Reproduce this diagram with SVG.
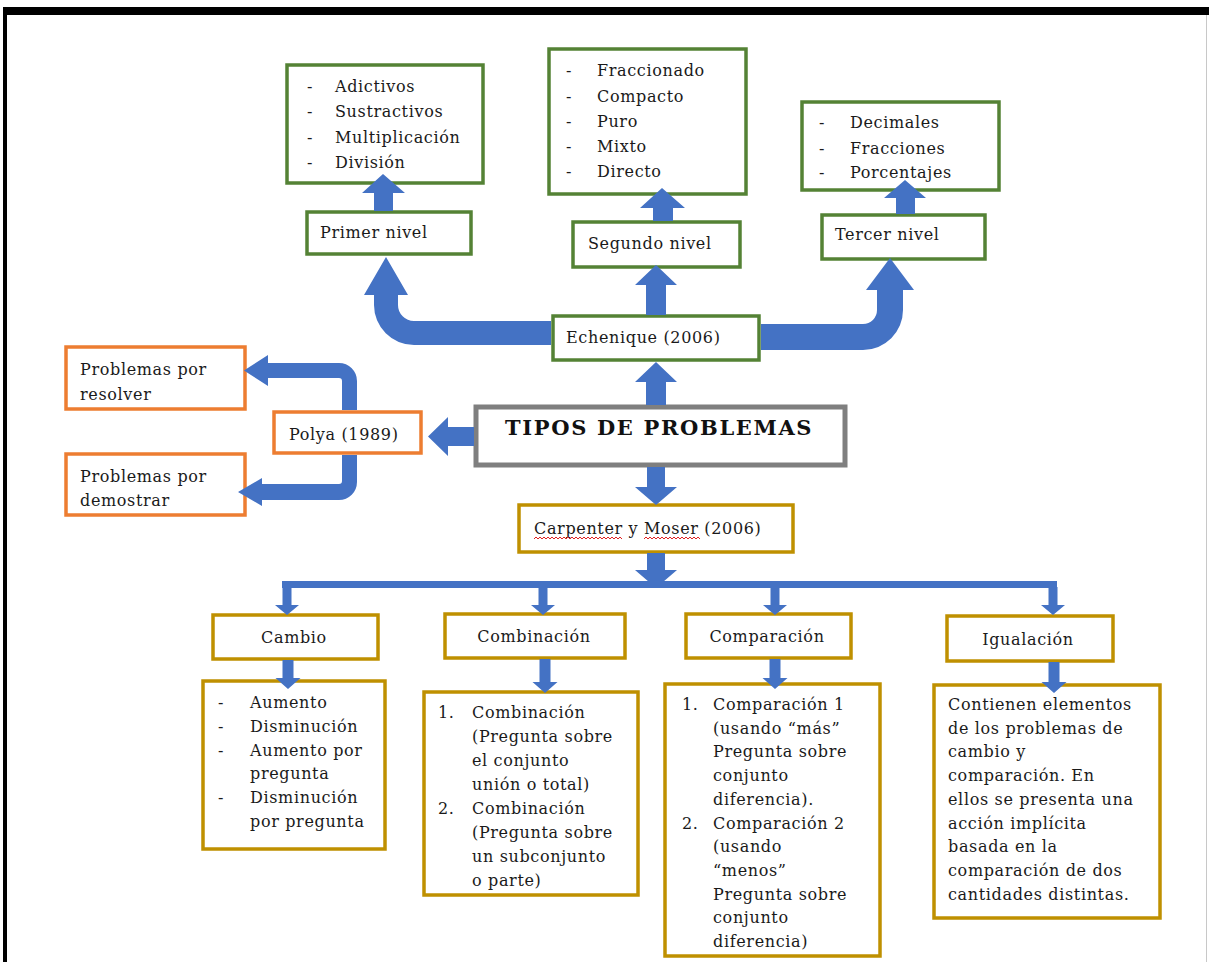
<svg xmlns="http://www.w3.org/2000/svg" width="1209" height="962" viewBox="0 0 1209 962">
<style>
.t{font-family:'DejaVu Serif','Liberation Serif',serif;font-size:16px;letter-spacing:0.65px;fill:#1a1a1a}
.c{text-anchor:middle}
.g{fill:#fff;stroke:#548235;stroke-width:3.5}
.o{fill:#fff;stroke:#ED7D31;stroke-width:3.5}
.y{fill:#fff;stroke:#BF9000;stroke-width:3.5}
.gr{fill:#fff;stroke:#7F7F7F;stroke-width:5}
.a{fill:#4472C4}
.h{font-family:'DejaVu Serif','Liberation Serif',serif;font-size:21px;font-weight:bold;letter-spacing:1.5px;fill:#111}
</style>
<defs>
<clipPath id="clipComb"><rect x="424" y="692" width="214" height="201"/></clipPath>
<clipPath id="clipComp"><rect x="665" y="684" width="215" height="270"/></clipPath>
</defs>
<rect x="0" y="0" width="1209" height="962" fill="#fff"/>
<g id="frame">
<rect x="3" y="7" width="1206" height="8" fill="#000"/>
<rect x="3" y="7" width="4" height="955" fill="#000"/>
<line x1="1206.5" y1="15" x2="1206.5" y2="962" stroke="#c8c8c8" stroke-width="1"/>
</g>

<g id="nivel1-lista">
<rect class="g" x="287" y="65" width="196" height="118"/>
<text class="t" x="307" y="92">-</text><text class="t" x="335" y="92">Adictivos</text>
<text class="t" x="307" y="117">-</text><text class="t" x="335" y="117">Sustractivos</text>
<text class="t" x="307" y="143">-</text><text class="t" x="335" y="143">Multiplicación</text>
<text class="t" x="307" y="168">-</text><text class="t" x="335" y="168">División</text>
</g>
<g id="primer-nivel">
<rect class="g" x="307" y="212" width="164" height="42"/>
<text class="t" x="320" y="238">Primer nivel</text>
</g>
<g id="nivel2-lista">
<rect class="g" x="549" y="49" width="197" height="145"/>
<text class="t" x="566" y="76">-</text><text class="t" x="597" y="76">Fraccionado</text>
<text class="t" x="566" y="102">-</text><text class="t" x="597" y="102">Compacto</text>
<text class="t" x="566" y="127">-</text><text class="t" x="597" y="127">Puro</text>
<text class="t" x="566" y="152">-</text><text class="t" x="597" y="152">Mixto</text>
<text class="t" x="566" y="177">-</text><text class="t" x="597" y="177">Directo</text>
</g>
<g id="segundo-nivel">
<rect class="g" x="573" y="222" width="167" height="45"/>
<text class="t" x="588" y="249">Segundo nivel</text>
</g>
<g id="nivel3-lista">
<rect class="g" x="802" y="102" width="197" height="88"/>
<text class="t" x="819" y="128">-</text><text class="t" x="850" y="128">Decimales</text>
<text class="t" x="819" y="154">-</text><text class="t" x="850" y="154">Fracciones</text>
<text class="t" x="819" y="178">-</text><text class="t" x="850" y="178">Porcentajes</text>
</g>
<g id="tercer-nivel">
<rect class="g" x="822" y="215" width="163" height="44"/>
<text class="t" x="835" y="240">Tercer nivel</text>
</g>
<g id="echenique">
<rect class="g" x="553" y="316" width="206" height="44"/>
<text class="t" x="566" y="343">Echenique (2006)</text>
</g>
<g id="tipos">
<rect class="gr" x="476" y="407" width="369" height="58"/>
<text class="h" x="505" y="435" textLength="308" lengthAdjust="spacing">TIPOS DE PROBLEMAS</text>
</g>
<g id="polya">
<rect class="o" x="274" y="412" width="147" height="41"/>
<text class="t" x="289" y="440">Polya (1989)</text>
</g>
<g id="resolver">
<rect class="o" x="66" y="347" width="179" height="62"/>
<text class="t" x="80" y="375">Problemas por</text>
<text class="t" x="80" y="400">resolver</text>
</g>
<g id="demostrar">
<rect class="o" x="66" y="454" width="179" height="61"/>
<text class="t" x="80" y="482">Problemas por</text>
<text class="t" x="80" y="506">demostrar</text>
</g>
<g id="carpenter">
<rect class="y" x="519" y="505" width="274" height="47"/>
<text class="t" x="534" y="534">Carpenter y Moser (2006)</text>
<path d="M534,539 l2,-2 2,2 2,-2 2,2 2,-2 2,2 2,-2 2,2 2,-2 2,2 2,-2 2,2 2,-2 2,2 2,-2 2,2 2,-2 2,2 2,-2 2,2 2,-2 2,2 2,-2 2,2 2,-2 2,2 2,-2 2,2 2,-2 2,2 2,-2 2,2 2,-2 2,2 2,-2 2,2 2,-2 2,2 2,-2 2,2 2,-2 2,2 2,-2 2,2" fill="none" stroke="#e02020" stroke-width="1"/>
<path d="M644,539 l2,-2 2,2 2,-2 2,2 2,-2 2,2 2,-2 2,2 2,-2 2,2 2,-2 2,2 2,-2 2,2 2,-2 2,2 2,-2 2,2 2,-2 2,2 2,-2 2,2 2,-2 2,2 2,-2 2,2 2,-2 2,2" fill="none" stroke="#e02020" stroke-width="1"/>
</g>
<g id="cambio">
<rect class="y" x="213" y="615" width="165" height="44"/>
<text class="t c" x="294" y="643">Cambio</text>
</g>
<g id="combinacion">
<rect class="y" x="445" y="614" width="180" height="44"/>
<text class="t c" x="534" y="642">Combinación</text>
</g>
<g id="comparacion">
<rect class="y" x="686" y="614" width="165" height="44"/>
<text class="t c" x="767" y="642">Comparación</text>
</g>
<g id="igualacion">
<rect class="y" x="947" y="616" width="166" height="45"/>
<text class="t c" x="1028" y="645">Igualación</text>
</g>
<g id="cambio-lista">
<rect class="y" x="203" y="681" width="182" height="168"/>
<text class="t" x="218" y="708">-</text><text class="t" x="250" y="708">Aumento</text>
<text class="t" x="218" y="732">-</text><text class="t" x="250" y="732">Disminución</text>
<text class="t" x="218" y="756">-</text><text class="t" x="250" y="756">Aumento por</text>
<text class="t" x="250" y="779">pregunta</text>
<text class="t" x="218" y="803">-</text><text class="t" x="250" y="803">Disminución</text>
<text class="t" x="250" y="827">por pregunta</text>
</g>
<g id="combinacion-lista">
<rect class="y" x="424" y="692" width="214" height="203"/>
<g clip-path="url(#clipComb)">
<text class="t" x="438" y="718">1.</text><text class="t" x="472" y="718">Combinación</text>
<text class="t" x="472" y="742">(Pregunta sobre</text>
<text class="t" x="472" y="766">el conjunto</text>
<text class="t" x="472" y="790">unión o total)</text>
<text class="t" x="438" y="814">2.</text><text class="t" x="472" y="814">Combinación</text>
<text class="t" x="472" y="838">(Pregunta sobre</text>
<text class="t" x="472" y="862">un subconjunto</text>
<text class="t" x="472" y="886">o parte)</text>
</g>
</g>
<g id="comparacion-lista">
<rect class="y" x="665" y="684" width="215" height="272"/>
<g clip-path="url(#clipComp)">
<text class="t" x="682" y="710">1.</text><text class="t" x="713" y="710">Comparación 1</text>
<text class="t" x="713" y="734">(usando “más”</text>
<text class="t" x="713" y="757">Pregunta sobre</text>
<text class="t" x="713" y="781">conjunto</text>
<text class="t" x="713" y="805">diferencia).</text>
<text class="t" x="682" y="829">2.</text><text class="t" x="713" y="829">Comparación 2</text>
<text class="t" x="713" y="852">(usando</text>
<text class="t" x="713" y="876">“menos”</text>
<text class="t" x="713" y="900">Pregunta sobre</text>
<text class="t" x="713" y="923">conjunto</text>
<text class="t" x="713" y="947">diferencia)</text>
</g>
</g>
<g id="igualacion-texto">
<rect class="y" x="934" y="685" width="226" height="233"/>
<text class="t" x="948" y="710">Contienen elementos</text>
<text class="t" x="948" y="734">de los problemas de</text>
<text class="t" x="948" y="757">cambio y</text>
<text class="t" x="948" y="781">comparación. En</text>
<text class="t" x="948" y="805">ellos se presenta una</text>
<text class="t" x="948" y="829">acción implícita</text>
<text class="t" x="948" y="852">basada en la</text>
<text class="t" x="948" y="876">comparación de dos</text>
<text class="t" x="948" y="900">cantidades distintas.</text>
</g>

<g id="connectors" class="a">
<polygon points="374,211 374,193 362,193 383,174 405,193 393,193 393,211"/>
<polygon points="653,221 653,208 640,208 662,188 685,208 673,208 673,221"/>
<polygon points="896,214 896,198 884,198 905,180 926,198 915,198 915,214"/>
<polygon points="646,315 646,285 635,285 656,265 677,285 666,285 666,315"/>
<polygon points="646,405 646,382 635,382 656,362 677,382 666,382 666,405"/>
<polygon points="647,467 647,487 635,487 656,505 677,487 665,487 665,467"/>
<polygon points="647,553 647,570 635,570 656,588 677,570 665,570 665,553"/>
<path d="M551,321 L414,321 A16,16 0 0 1 398,305 L398,295 L408,295 L386,257 L364,295 L374,295 L374,305 A40,40 0 0 0 414,345 L551,345 Z"/>
<path d="M761,324 L863,324 A14,14 0 0 0 877,310 L877,290 L866,290 L890,258 L914,290 L903,290 L903,310 A40,40 0 0 1 863,350 L761,350 Z"/>
<polygon points="474,427 448,427 448,417 428,436.5 448,456 448,446 474,446"/>
<path d="M342,410 L342,381 A3,3 0 0 0 339,378 L268,378 L268,386 L244,370.5 L268,355 L268,363 L339,363 A18,18 0 0 1 357,381 L357,410 Z"/>
<path d="M342,455 L342,481 A3,3 0 0 1 339,484 L262,484 L262,478 L238,492 L262,506 L262,500 L339,500 A18,18 0 0 0 357,482 L357,455 Z"/>
<rect x="282" y="581" width="775" height="7"/>
<polygon points="282.5,587 282.5,605 275,605 287,615 299,605 291.5,605 291.5,587"/>
<polygon points="538.5,587 538.5,605 531,605 543,615 555,605 547.5,605 547.5,587"/>
<polygon points="770.5,587 770.5,605 763,605 775,615 787,605 779.5,605 779.5,587"/>
<polygon points="1048.5,587 1048.5,605 1041,605 1053,615 1065,605 1057.5,605 1057.5,587"/>
<polygon points="282.5,660 282.5,678 275.5,678 288,689 300.5,678 293.5,678 293.5,660"/>
<polygon points="539.5,659 539.5,682 532.5,682 545,693 557.5,682 550.5,682 550.5,659"/>
<polygon points="769.5,659 769.5,678 762.5,678 775,689 787.5,678 780.5,678 780.5,659"/>
<polygon points="1048.5,662 1048.5,682 1041.5,682 1054,693 1066.5,682 1059.5,682 1059.5,662"/>
</g>
</svg>
